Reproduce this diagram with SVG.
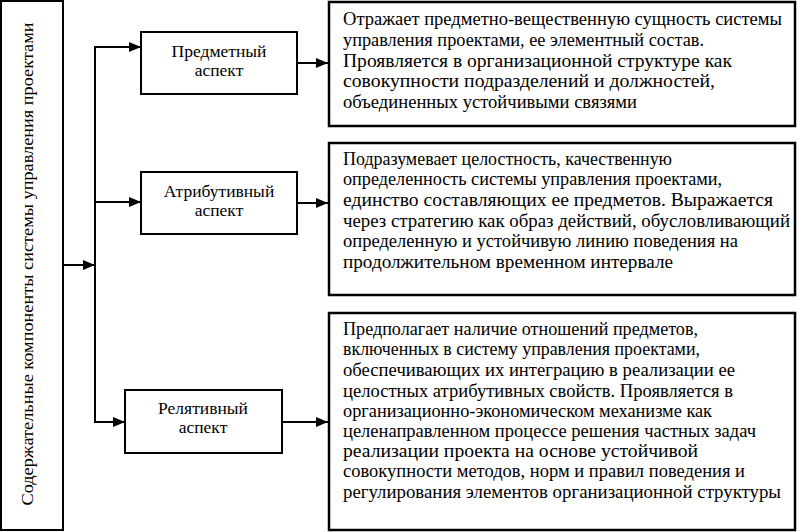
<svg xmlns="http://www.w3.org/2000/svg" width="797" height="532" viewBox="0 0 797 532">
<style>
.box{fill:#fff;stroke:#000;stroke-width:2}
.tbox{fill:#fff;stroke:#000;stroke-width:2.5}
text{font-family:'Liberation Serif','DejaVu Serif',serif;font-size:17.5px;fill:#000}
.d{font-size:18px}
.c{text-anchor:middle}
.ln{fill:none;stroke:#000;stroke-width:2}
</style>
<defs>
<marker id="ah" markerUnits="userSpaceOnUse" markerWidth="12" markerHeight="10" refX="12" refY="5" orient="auto">
<path d="M0,0 L12,5 L0,10 Z" fill="#000"/>
</marker>
</defs>
<g id="connectors">
<line class="ln" x1="63" y1="265" x2="95" y2="265" marker-end="url(#ah)"/>
<polyline class="ln" points="95,47 95,422"/>
<line class="ln" x1="94" y1="47" x2="141" y2="47" marker-end="url(#ah)"/>
<line class="ln" x1="94" y1="202" x2="141" y2="202" marker-end="url(#ah)"/>
<line class="ln" x1="94" y1="422" x2="125" y2="422" marker-end="url(#ah)"/>
<line class="ln" x1="297" y1="63" x2="328" y2="63" marker-end="url(#ah)"/>
<line class="ln" x1="297" y1="203" x2="328" y2="203" marker-end="url(#ah)"/>
<line class="ln" x1="282" y1="422" x2="328" y2="422" marker-end="url(#ah)"/>
</g>
<g id="root">
<rect class="box" x="1" y="1" width="62" height="529"/>
<text class="c" transform="translate(33,264) rotate(-90)" textLength="483" lengthAdjust="spacingAndGlyphs">Содержательные компоненты системы управления проектами</text>
</g>
<g id="aspect1">
<rect class="box" x="141" y="32" width="156" height="62"/>
<text class="c" x="219" y="57">Предметный</text>
<text class="c" x="219" y="76">аспект</text>
</g>
<g id="aspect2">
<rect class="box" x="141" y="172" width="156" height="62"/>
<text class="c" x="219" y="197">Атрибутивный</text>
<text class="c" x="219" y="216">аспект</text>
</g>
<g id="aspect3">
<rect class="box" x="125" y="390" width="157" height="63"/>
<text class="c" x="203" y="414">Релятивный</text>
<text class="c" x="203" y="433">аспект</text>
</g>
<g id="desc1">
<rect class="tbox" x="329" y="2" width="466" height="124"/>
<text class="d" x="343" y="25" textLength="439" lengthAdjust="spacingAndGlyphs">Отражает предметно-вещественную сущность системы</text>
<text class="d" x="343" y="46" textLength="361" lengthAdjust="spacingAndGlyphs">управления проектами, ее элементный состав.</text>
<text class="d" x="343" y="67" textLength="389" lengthAdjust="spacingAndGlyphs">Проявляется в организационной структуре как</text>
<text class="d" x="343" y="87" textLength="372" lengthAdjust="spacingAndGlyphs">совокупности подразделений и должностей,</text>
<text class="d" x="343" y="108" textLength="294" lengthAdjust="spacingAndGlyphs">объединенных устойчивыми связями</text>
</g>
<g id="desc2">
<rect class="tbox" x="329" y="143" width="466" height="152"/>
<text class="d" x="343" y="165" textLength="329" lengthAdjust="spacingAndGlyphs">Подразумевает целостность, качественную</text>
<text class="d" x="343" y="185" textLength="379" lengthAdjust="spacingAndGlyphs">определенность системы управления проектами,</text>
<text class="d" x="343" y="206" textLength="430" lengthAdjust="spacingAndGlyphs">единство составляющих ее предметов. Выражается</text>
<text class="d" x="343" y="227" textLength="447" lengthAdjust="spacingAndGlyphs">через стратегию как образ действий, обусловливающий</text>
<text class="d" x="343" y="247" textLength="395" lengthAdjust="spacingAndGlyphs">определенную и устойчивую линию поведения на</text>
<text class="d" x="343" y="268" textLength="330" lengthAdjust="spacingAndGlyphs">продолжительном временном интервале</text>
</g>
<g id="desc3">
<rect class="tbox" x="329" y="313" width="466" height="217"/>
<text class="d" x="343" y="335" textLength="355" lengthAdjust="spacingAndGlyphs">Предполагает наличие отношений предметов,</text>
<text class="d" x="343" y="355" textLength="357" lengthAdjust="spacingAndGlyphs">включенных в систему управления проектами,</text>
<text class="d" x="343" y="376" textLength="392" lengthAdjust="spacingAndGlyphs">обеспечивающих их интеграцию в реализации ее</text>
<text class="d" x="343" y="397" textLength="390" lengthAdjust="spacingAndGlyphs">целостных атрибутивных свойств. Проявляется в</text>
<text class="d" x="343" y="417" textLength="369" lengthAdjust="spacingAndGlyphs">организационно-экономическом механизме как</text>
<text class="d" x="343" y="437" textLength="413" lengthAdjust="spacingAndGlyphs">целенаправленном процессе решения частных задач</text>
<text class="d" x="343" y="457" textLength="355" lengthAdjust="spacingAndGlyphs">реализации проекта на основе устойчивой</text>
<text class="d" x="343" y="477" textLength="402" lengthAdjust="spacingAndGlyphs">совокупности методов, норм и правил поведения и</text>
<text class="d" x="343" y="498" textLength="438" lengthAdjust="spacingAndGlyphs">регулирования элементов организационной структуры</text>
</g>
</svg>
